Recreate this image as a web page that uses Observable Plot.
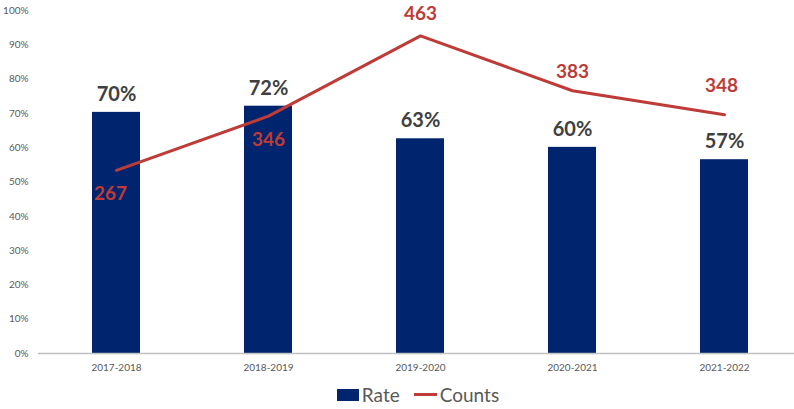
<!DOCTYPE html>
<html>
<head>
<meta charset="utf-8">
<script src="https://cdn.jsdelivr.net/npm/d3@7"></script>
<script src="https://cdn.jsdelivr.net/npm/@observablehq/plot@0.6"></script>
<style>
  body { margin: 0; background: #fff; font-family: Lato, "Liberation Sans", sans-serif; }
  #chart { width: 794px; }
  .legend { display: flex; justify-content: center; align-items: center; height: 29px; padding-left: 42px; color: #595959; font-size: 19px; font-family: Lato, sans-serif; }
  .legend .sw { display: inline-block; width: 22px; height: 12px; background: #00256E; margin-right: 3px; }
  .legend .ln { display: inline-block; width: 23px; height: 3px; background: #BE3B37; margin-left: 14px; margin-right: 3px; }
</style>
</head>
<body>
<div id="chart"></div>
<script>
const years = ["2017-2018", "2018-2019", "2019-2020", "2020-2021", "2021-2022"];
const rates = [0.703, 0.721, 0.626, 0.601, 0.565];
const rateLabels = ["70%", "72%", "63%", "60%", "57%"];
const counts = [267, 346, 463, 383, 348];
const countMax = 500;
const yTicks = [0, 0.1, 0.2, 0.3, 0.4, 0.5, 0.6, 0.7, 0.8, 0.9, 1.0];

const rows = years.map((y, i) => ({
  year: y, rate: rates[i], rateLabel: rateLabels[i],
  count: counts[i], countScaled: counts[i] / countMax
}));

const navy = "#00256E";
const red = "#BE3B37";
const countText = (idx, opts) => Plot.text([rows[idx]], Object.assign({ x: "year", y: "countScaled", text: d => String(d.count), fontSize: 19, fontWeight: "bold", fill: red }, opts));

const plot = Plot.plot({
  width: 794,
  height: 380,
  marginTop: 10,
  marginBottom: 27,
  marginLeft: 38,
  marginRight: 0,
  style: { fontFamily: "Lato, 'Liberation Sans', sans-serif", background: "#fff" },
  x: { domain: years, range: [38, 802], paddingInner: 0.686, paddingOuter: 0.343, label: null },
  y: { domain: [0, 1], label: null },
  marks: [
    Plot.axisY({ ticks: yTicks, tickFormat: d => Math.round(d * 100) + "%", tickSize: 0, tickPadding: 10, fontSize: 10, color: "#595959", label: null }),
    Plot.axisX({ tickSize: 0, tickPadding: 10, fontSize: 10, color: "#595959", label: null }),
    Plot.barY(rows, { x: "year", y: "rate", fill: navy }),
    Plot.ruleY([0], { stroke: "#BFBFBF", strokeWidth: 1.5 }),
    Plot.text(rows, { x: "year", y: "rate", text: "rateLabel", dy: -18, fontSize: 20, fontWeight: "bold", fill: "#404040" }),
    Plot.line(rows, { x: "year", y: "countScaled", stroke: red, strokeWidth: 3 }),
    countText(0, { dx: -6, dy: 24 }),
    countText(1, { dx: 0, dy: 24 }),
    countText(2, { dy: -22 }),
    countText(3, { dy: -19 }),
    countText(4, { dx: -3, dy: -29 })
  ]
});
document.getElementById("chart").appendChild(plot);

const legend = document.createElement("div");
legend.className = "legend";
legend.innerHTML = '<span class="sw"></span><span>Rate</span><span class="ln"></span><span>Counts</span>';
document.getElementById("chart").appendChild(legend);
</script>
</body>
</html>
